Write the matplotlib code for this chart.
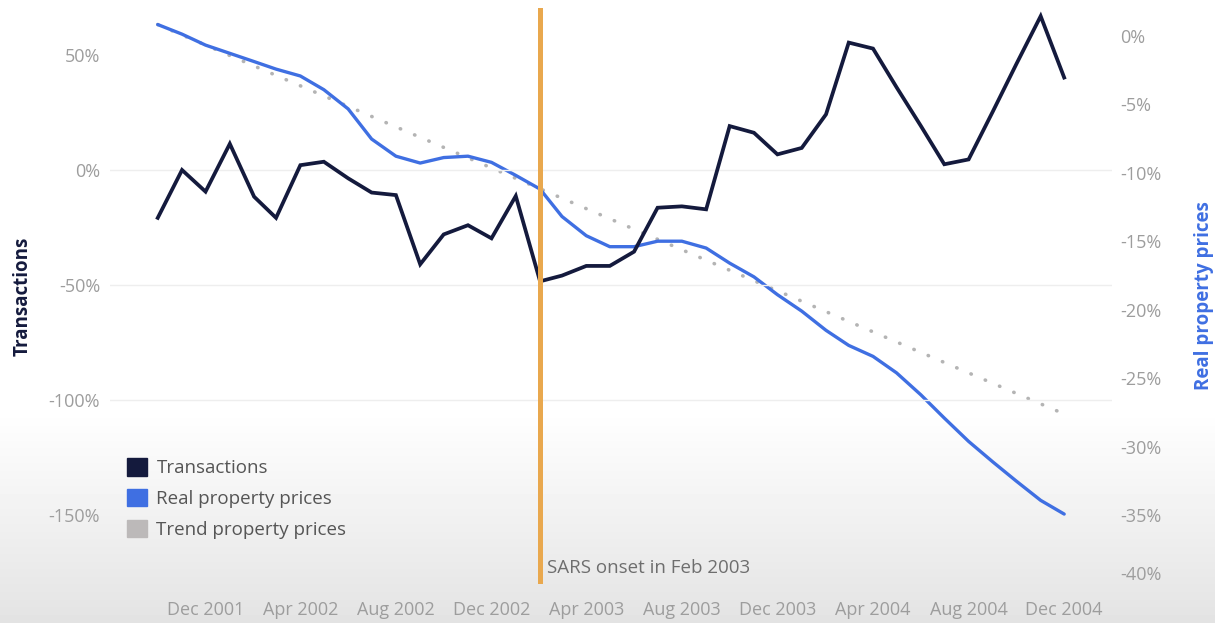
import matplotlib.pyplot as plt
from matplotlib.patches import Patch
import numpy as np
import pandas as pd

plt.rcParams['font.family'] = ['Open Sans', 'DejaVu Sans']

# monthly figures, Oct 2001 - Dec 2004
months = pd.date_range('2001-10-01', '2004-12-01', freq='MS')

# year-on-year change in transactions (%)
transactions = [-20.8, 0.0, -9.4, 11.4, -11.6, -20.8, 2.1, 3.6, -3.6, -9.8,
                -10.9, -41.0, -28.0, -24.0, -29.7, -11.3, -48.4, -45.9, -41.7, -41.7,
                -35.5, -16.4, -15.8, -17.1, 19.1, 16.2, 6.8, 9.6, 24.2, 55.4,
                52.8, 36.0, 19.2, 2.5, 4.6, 25.5, 46.1, 66.9, 40.2]

# real property prices (%)
real_prices = [0.8, 0.1, -0.7, -1.3, -1.9, -2.45, -2.95, -3.95, -5.35, -7.55,
               -8.8, -9.3, -8.9, -8.8, -9.25, -10.2, -11.2, -13.2, -14.6, -15.4,
               -15.4, -15.0, -15.0, -15.5, -16.6, -17.6, -18.9, -20.1, -21.5, -22.6,
               -23.4, -24.6, -26.2, -27.9, -29.6, -31.1, -32.5, -33.9, -34.9]

# straight trend line for property prices
trend_dates = pd.to_datetime(['2001-10-01', '2004-12-01'])
trend_prices = [0.8, -27.6]

tick_labels = ['Dec 2001', 'Apr 2002', 'Aug 2002', 'Dec 2002', 'Apr 2003',
               'Aug 2003', 'Dec 2003', 'Apr 2004', 'Aug 2004', 'Dec 2004']
left_ticks = [50, 0, -50, -100, -150]
right_ticks = [0, -5, -10, -15, -20, -25, -30, -35, -40]

sars_date = pd.Timestamp('2003-02-01')
sars_text = 'SARS onset in Feb 2003'

NAVY = '#141a3d'
BLUE = '#3f6fe2'
GREY = '#bcb9b9'
ORANGE = '#e9a84e'
TICK_COLOR = '#9d9d9d'

fig = plt.figure(figsize=(12.15, 6.23), dpi=100)

# greyish fade at the bottom of the screenshot
bg = fig.add_axes([0, 0, 1, 1], zorder=-10)
rows = np.arange(623)
shade = np.where(rows < 410, 1.0, 1.0 - 0.11 * (rows - 410) / 213.0)
bg.imshow(shade[:, None], cmap='gray', vmin=0, vmax=1, aspect='auto',
          extent=[0, 1, 0, 1])
bg.axis('off')

# prices axis (right side) underneath, transactions axis (left side) on top
ax_r = fig.add_axes([0.0905, 0.0626, 0.8247, 0.9244])
ax_l = ax_r.twinx()
for a in (ax_r, ax_l):
    a.patch.set_alpha(0)
    for s in a.spines.values():
        s.set_visible(False)
    a.tick_params(length=0, labelsize=13, labelcolor=TICK_COLOR)

ax_r.yaxis.tick_right()
ax_r.yaxis.set_label_position('right')
ax_l.yaxis.tick_left()
ax_l.yaxis.set_label_position('left')

ax_r.plot(trend_dates, trend_prices, color='#b4b4b4', lw=2.6,
          linestyle=(0, (0.1, 4.2)), dash_capstyle='round')
ax_r.plot(months, real_prices, color=BLUE, lw=2.4, solid_capstyle='round')
ax_l.plot(months, transactions, color=NAVY, lw=2.7, solid_joinstyle='miter')

ax_l.set_ylim(-180, 70.4)
ax_r.set_ylim(-40, 2.0)
ax_r.set_xlim(months[0] - pd.Timedelta(days=61), months[-1] + pd.Timedelta(days=61))

ax_l.set_yticks(left_ticks, labels=[f'{t}%' for t in left_ticks])
ax_r.set_yticks(right_ticks, labels=[f'{t}%' for t in right_ticks])
for lbl in ax_r.get_yticklabels():
    if lbl.get_text() == '-40%':
        lbl.set_va('bottom')
ax_l.tick_params(axis='y', pad=7)
ax_r.tick_params(axis='y', pad=6)

ax_r.set_xticks(pd.to_datetime(tick_labels, format='%b %Y'), labels=tick_labels)
ax_r.tick_params(axis='x', pad=12)

# faint horizontal guides at the transaction ticks
for t in left_ticks[1:4]:
    ax_l.axhline(t, color='#eeeeee', lw=1, zorder=0)

ax_l.set_ylabel('Transactions', color=NAVY, fontsize=13.5, fontweight='bold')
ax_l.yaxis.set_label_coords(-0.077, 0.5)
ax_r.set_ylabel('Real property prices', color=BLUE, fontsize=13.5, fontweight='bold')
ax_r.yaxis.set_label_coords(1.082, 0.5)

# SARS marker
ax_l.axvline(sars_date, color=ORANGE, lw=3.6, zorder=5)
ax_l.annotate(sars_text, xy=(sars_date, 0), xycoords=('data', 'axes fraction'),
              xytext=(7, 7), textcoords='offset pixels', fontsize=13.5,
              color='#6e6e6e', va='bottom', ha='left')

handles = [Patch(color=NAVY, label='Transactions'),
           Patch(color=BLUE, label='Real property prices'),
           Patch(color=GREY, label='Trend property prices')]
leg = fig.legend(handles=handles, loc='upper left', bbox_to_anchor=(0.1045, 0.265),
                 frameon=False, fontsize=13.5, handlelength=1.07, handleheight=1.07,
                 handletextpad=0.5, labelspacing=0.62, borderpad=0, borderaxespad=0)
for txt in leg.get_texts():
    txt.set_color('#555555')

fig.savefig('out.png', dpi=100)
